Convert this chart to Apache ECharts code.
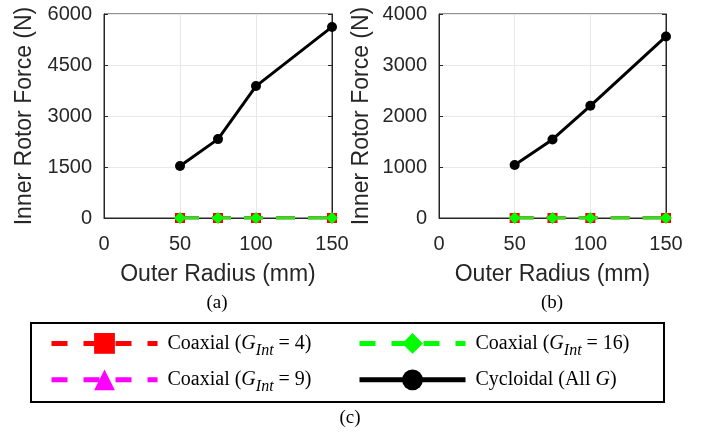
<!DOCTYPE html>
<html>
<head>
<meta charset="utf-8">
<script src="https://cdn.jsdelivr.net/npm/echarts@6/dist/echarts.min.js"></script>
<style>
  html, body { margin: 0; padding: 0; background: #fff; }
  #chart { width: 709px; height: 432px; }
</style>
</head>
<body>
<div id="chart"></div>
<script>
// outer radius (mm)
const radius = [50, 75, 100, 150]
// (a) and (b) inner rotor force (N)
const cycloidalA = [1530, 2320, 3880, 5620]
const cycloidalB = [1040, 1540, 2200, 3560]
const coaxial4A = [0, 0, 0, 0]
const coaxial9A = [0, 0, 0, 0]
const coaxial16A = [0, 0, 0, 0]
const coaxial4B = [0, 0, 0, 0]
const coaxial9B = [0, 0, 0, 0]
const coaxial16B = [0, 0, 0, 0]
const yTicksA = { max: 6000, interval: 1500 }
const yTicksB = { max: 4000, interval: 1000 }

const names = ['Coaxial (GInt = 4)', 'Coaxial (GInt = 9)', 'Coaxial (GInt = 16)', 'Cycloidal (All G)']
const legendRich = {
  'Coaxial (GInt = 4)': '{t|Coaxial (}{i|G}{s|Int}{t| = 4)}',
  'Coaxial (GInt = 9)': '{t|Coaxial (}{i|G}{s|Int}{t| = 9)}',
  'Coaxial (GInt = 16)': '{t|Coaxial (}{i|G}{s|Int}{t| = 16)}',
  'Cycloidal (All G)': '{t|Cycloidal (All }{i|G}{t|)}'
}

const ink = '#262626'
const sans = 'Liberation Sans'
const serif = 'Liberation Serif'

function pts (ys) {
  return radius.map((x, i) => [x, ys[i]])
}

function xAxis (gridIndex) {
  return {
    type: 'value',
    gridIndex: gridIndex,
    min: 0,
    max: 150,
    interval: 50,
    name: 'Outer Radius (mm)',
    nameLocation: 'middle',
    nameGap: 45,
    nameTextStyle: { fontFamily: sans, fontSize: 23, color: ink },
    axisLine: { lineStyle: { color: ink, width: 1 } },
    axisTick: { inside: true, length: 4, lineStyle: { color: ink } },
    axisLabel: { fontFamily: sans, fontSize: 20, color: ink, margin: 16 },
    splitLine: { show: true, lineStyle: { color: '#e8e8e8', width: 1 } }
  }
}

function yAxis (gridIndex, ticks, gap) {
  return {
    type: 'value',
    gridIndex: gridIndex,
    min: 0,
    max: ticks.max,
    interval: ticks.interval,
    name: 'Inner Rotor Force (N)',
    nameLocation: 'middle',
    nameGap: gap,
    nameTextStyle: { fontFamily: sans, fontSize: 23, color: ink },
    axisLine: { show: true, lineStyle: { color: ink, width: 1 } },
    axisTick: { show: true, inside: true, length: 4, lineStyle: { color: ink } },
    axisLabel: { fontFamily: sans, fontSize: 20, color: ink, margin: 12, formatter: v => String(v) },
    splitLine: { show: true, lineStyle: { color: '#e8e8e8', width: 1 } }
  }
}

// right-hand axis, only for the box and inner ticks
function yAxisRight (gridIndex, ticks) {
  return {
    type: 'value',
    gridIndex: gridIndex,
    position: 'right',
    min: 0,
    max: ticks.max,
    interval: ticks.interval,
    axisLine: { show: true, lineStyle: { color: ink, width: 1 } },
    axisTick: { show: true, inside: true, length: 4, lineStyle: { color: ink } },
    axisLabel: { show: false },
    splitLine: { show: false }
  }
}

function coaxial (name, data, color, symbol, size, xi, yi, z) {
  return {
    name: name,
    type: 'line',
    xAxisIndex: xi,
    yAxisIndex: yi,
    data: pts(data),
    symbol: symbol,
    symbolSize: size,
    z: z,
    lineStyle: { color: color, width: 3, type: [19, 13] },
    itemStyle: { color: color },
    animation: false
  }
}

function cycloidal (data, xi, yi) {
  return {
    name: names[3],
    type: 'line',
    xAxisIndex: xi,
    yAxisIndex: yi,
    data: pts(data),
    symbol: 'circle',
    symbolSize: 10,
    z: 5,
    lineStyle: { color: '#000', width: 3 },
    itemStyle: { color: '#000' },
    animation: false
  }
}

const dashed = { type: [16, 16] }

// one legend column; the box round both columns is a graphic rect
function legendColumn (left, items) {
  return {
    data: items,
    orient: 'vertical',
    left: left,
    top: 333,
    padding: 0,
    itemGap: 11,
    itemWidth: 106,
    itemHeight: 26,
    lineStyle: { width: 5 },
    formatter: name => legendRich[name],
    textStyle: {
      padding: [0, 0, 0, 5],
      rich: {
        t: { fontFamily: serif, fontSize: 20, lineHeight: 30, color: '#000' },
        i: { fontFamily: serif, fontSize: 20, lineHeight: 30, fontStyle: 'italic', color: '#000' },
        s: { fontFamily: serif, fontSize: 16, lineHeight: 16, fontStyle: 'italic', color: '#000', verticalAlign: 'bottom' }
      }
    }
  }
}

const chart = echarts.init(document.getElementById('chart'))

chart.setOption({
  backgroundColor: '#fff',
  animation: false,
  grid: [
    { left: 104, top: 14, width: 228, height: 204, show: true, borderColor: ink, borderWidth: 1 },
    { left: 439, top: 14, width: 227, height: 204, show: true, borderColor: ink, borderWidth: 1 }
  ],
  xAxis: [xAxis(0), xAxis(1)],
  yAxis: [yAxis(0, yTicksA, 68), yAxis(1, yTicksB, 66), yAxisRight(0, yTicksA), yAxisRight(1, yTicksB)],
  legend: [
    legendColumn(49, [{ name: names[0], lineStyle: dashed }, { name: names[1], lineStyle: dashed }]),
    legendColumn(357, [{ name: names[2], lineStyle: dashed }, { name: names[3], lineStyle: { type: 'solid' } }])
  ],
  graphic: [
    { type: 'rect', shape: { x: 31, y: 323, width: 633, height: 79 }, style: { fill: null, stroke: '#000', lineWidth: 2 }, z: 10 },
    { type: 'text', x: 217, y: 303, style: { text: '(a)', fontFamily: serif, fontSize: 19, fill: '#000', align: 'center', verticalAlign: 'middle' } },
    { type: 'text', x: 552, y: 303, style: { text: '(b)', fontFamily: serif, fontSize: 19, fill: '#000', align: 'center', verticalAlign: 'middle' } },
    { type: 'text', x: 350, y: 418, style: { text: '(c)', fontFamily: serif, fontSize: 19, fill: '#000', align: 'center', verticalAlign: 'middle' } }
  ],
  series: [
    coaxial(names[1], coaxial9A, '#ff00ff', 'triangle', 10, 0, 0, 2),
    coaxial(names[0], coaxial4A, '#ff0000', 'rect', 10, 0, 0, 3),
    coaxial(names[2], coaxial16A, '#00ff00', 'diamond', 12, 0, 0, 4),
    cycloidal(cycloidalA, 0, 0),
    coaxial(names[1], coaxial9B, '#ff00ff', 'triangle', 10, 1, 1, 2),
    coaxial(names[0], coaxial4B, '#ff0000', 'rect', 10, 1, 1, 3),
    coaxial(names[2], coaxial16B, '#00ff00', 'diamond', 12, 1, 1, 4),
    cycloidal(cycloidalB, 1, 1)
  ]
})
</script>
</body>
</html>
